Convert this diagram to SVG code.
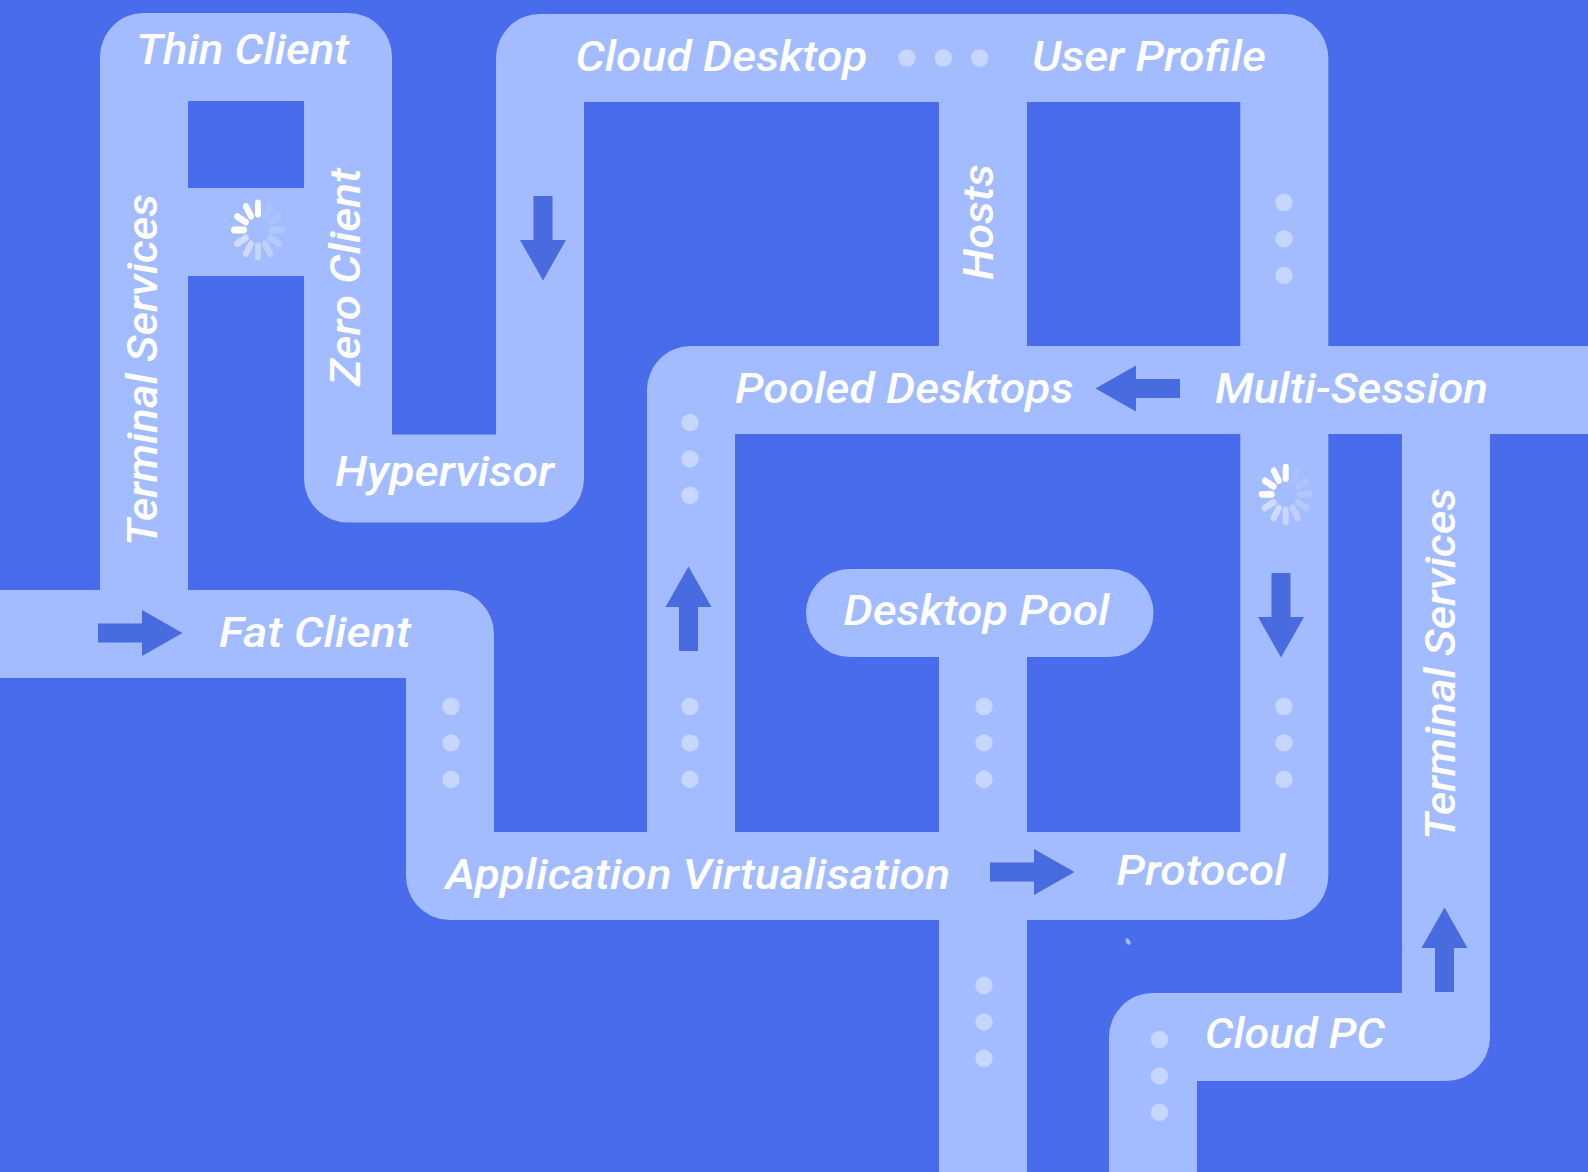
<svg xmlns="http://www.w3.org/2000/svg" width="1588" height="1172" viewBox="0 0 1588 1172">
<style>
.t{fill:none;stroke:#a3bcff;stroke-width:88;stroke-linejoin:round}
.l{font-family:"Roboto","Liberation Sans",sans-serif;font-style:italic;font-weight:500;font-size:42px;fill:#fff}
.d{fill:#c6d6ff}
.a{fill:#486be0}
.s{stroke:#fff;stroke-width:6;stroke-linecap:round}
</style>
<defs>
<path id="arrow" d="M0-9.5H44V-23L84.5 0 44 23V9.5H0Z"/>
<g id="spin">
<line class="s" x1="0" y1="-14" x2="0" y2="-24"/>
<line class="s" x1="0" y1="-14" x2="0" y2="-24" transform="rotate(-30)"/>
<line class="s" x1="0" y1="-14" x2="0" y2="-24" transform="rotate(-60)"/>
<line class="s" x1="0" y1="-14" x2="0" y2="-24" transform="rotate(-90)"/>
<line class="s" x1="0" y1="-14" x2="0" y2="-24" transform="rotate(-120)" opacity=".5"/>
<line class="s" x1="0" y1="-14" x2="0" y2="-24" transform="rotate(-150)" opacity=".45"/>
<line class="s" x1="0" y1="-14" x2="0" y2="-24" transform="rotate(180)" opacity=".4"/>
<line class="s" x1="0" y1="-14" x2="0" y2="-24" transform="rotate(150)" opacity=".3"/>
<line class="s" x1="0" y1="-14" x2="0" y2="-24" transform="rotate(120)" opacity=".2"/>
<line class="s" x1="0" y1="-14" x2="0" y2="-24" transform="rotate(90)" opacity=".15"/>
<line class="s" x1="0" y1="-14" x2="0" y2="-24" transform="rotate(60)" opacity=".1"/>
<line class="s" x1="0" y1="-14" x2="0" y2="-24" transform="rotate(30)" opacity=".08"/>
</g>
<g id="dv"><circle class="d" cx="0" cy="0" r="8.7"/><circle class="d" cx="0" cy="36.4" r="8.7"/><circle class="d" cx="0" cy="72.8" r="8.7"/></g>
</defs>
<rect width="1588" height="1172" fill="#486ceb"/>
<g id="connectors">
<path class="t" d="M0 634H450V876H1284.300V58H540V478.500H348V57H144V634"/>
<path class="t" d="M144 232H348"/>
<path class="t" d="M983 58V390"/>
<path class="t" d="M1588 390H691V876"/>
<path class="t" d="M983 613V1172"/>
<path class="t" d="M850 613H1109.500" stroke-linecap="round"/>
<path class="t" d="M1446 390V1037H1153V1172"/>
<ellipse cx="1128" cy="941.500" rx="2" ry="3.500" fill="#a3bcff" transform="rotate(-30 1128 941.500)"/>
<use href="#dv" x="1284" y="202.500"/>
<use href="#dv" x="690" y="422.500"/>
<use href="#dv" x="690" y="706.500"/>
<use href="#dv" x="451" y="706.500"/>
<use href="#dv" x="984" y="706.500"/>
<use href="#dv" x="1284" y="706.500"/>
<use href="#dv" x="984" y="985.500"/>
<use href="#dv" x="1159.500" y="1039.500"/>
<use href="#dv" transform="translate(907 58) rotate(-90)"/>
<use href="#arrow" class="a" transform="translate(543 196) rotate(90)"/>
<use href="#arrow" class="a" transform="translate(1281 573) rotate(90)"/>
<use href="#arrow" class="a" transform="translate(1180 388.500) rotate(180)"/>
<use href="#arrow" class="a" transform="translate(688.500 651) rotate(-90)"/>
<use href="#arrow" class="a" transform="translate(1444.500 992) rotate(-90)"/>
<use href="#arrow" class="a" transform="translate(98 633)"/>
<use href="#arrow" class="a" transform="translate(990 872)"/>
<use href="#spin" transform="translate(258 230) scale(1 1.13)"/>
<use href="#spin" transform="translate(1285.700 494.300) scale(1 1.13)"/>
</g>
<g id="thin-client"><text class="l" x="136" y="64" textLength="213" lengthAdjust="spacingAndGlyphs">Thin Client</text></g>
<g id="cloud-desktop"><text class="l" x="575.500" y="71" textLength="292" lengthAdjust="spacingAndGlyphs">Cloud Desktop</text></g>
<g id="user-profile"><text class="l" x="1032" y="71" textLength="234" lengthAdjust="spacingAndGlyphs">User Profile</text></g>
<g id="hosts"><text class="l" transform="translate(992.500 280) rotate(-90)" textLength="116" lengthAdjust="spacingAndGlyphs">Hosts</text></g>
<g id="zero-client"><text class="l" transform="translate(360 386) rotate(-90)" textLength="218" lengthAdjust="spacingAndGlyphs">Zero Client</text></g>
<g id="terminal-services-left"><text class="l" transform="translate(157 546) rotate(-90)" textLength="352" lengthAdjust="spacingAndGlyphs">Terminal Services</text></g>
<g id="hypervisor"><text class="l" x="335" y="485.500" textLength="219" lengthAdjust="spacingAndGlyphs">Hypervisor</text></g>
<g id="pooled-desktops"><text class="l" x="735" y="403" textLength="338.500" lengthAdjust="spacingAndGlyphs">Pooled Desktops</text></g>
<g id="multi-session"><text class="l" x="1215" y="403" textLength="273" lengthAdjust="spacingAndGlyphs">Multi-Session</text></g>
<g id="fat-client"><text class="l" x="219" y="646.500" textLength="192" lengthAdjust="spacingAndGlyphs">Fat Client</text></g>
<g id="desktop-pool"><text class="l" x="843.500" y="624.500" textLength="266" lengthAdjust="spacingAndGlyphs">Desktop Pool</text></g>
<g id="application-virtualisation"><text class="l" x="445.500" y="889" textLength="504.500" lengthAdjust="spacingAndGlyphs">Application Virtualisation</text></g>
<g id="protocol"><text class="l" x="1116.500" y="885" textLength="169" lengthAdjust="spacingAndGlyphs">Protocol</text></g>
<g id="terminal-services-right"><text class="l" transform="translate(1455 840) rotate(-90)" textLength="352" lengthAdjust="spacingAndGlyphs">Terminal Services</text></g>
<g id="cloud-pc"><text class="l" x="1205" y="1048" textLength="180" lengthAdjust="spacingAndGlyphs">Cloud PC</text></g>
</svg>
